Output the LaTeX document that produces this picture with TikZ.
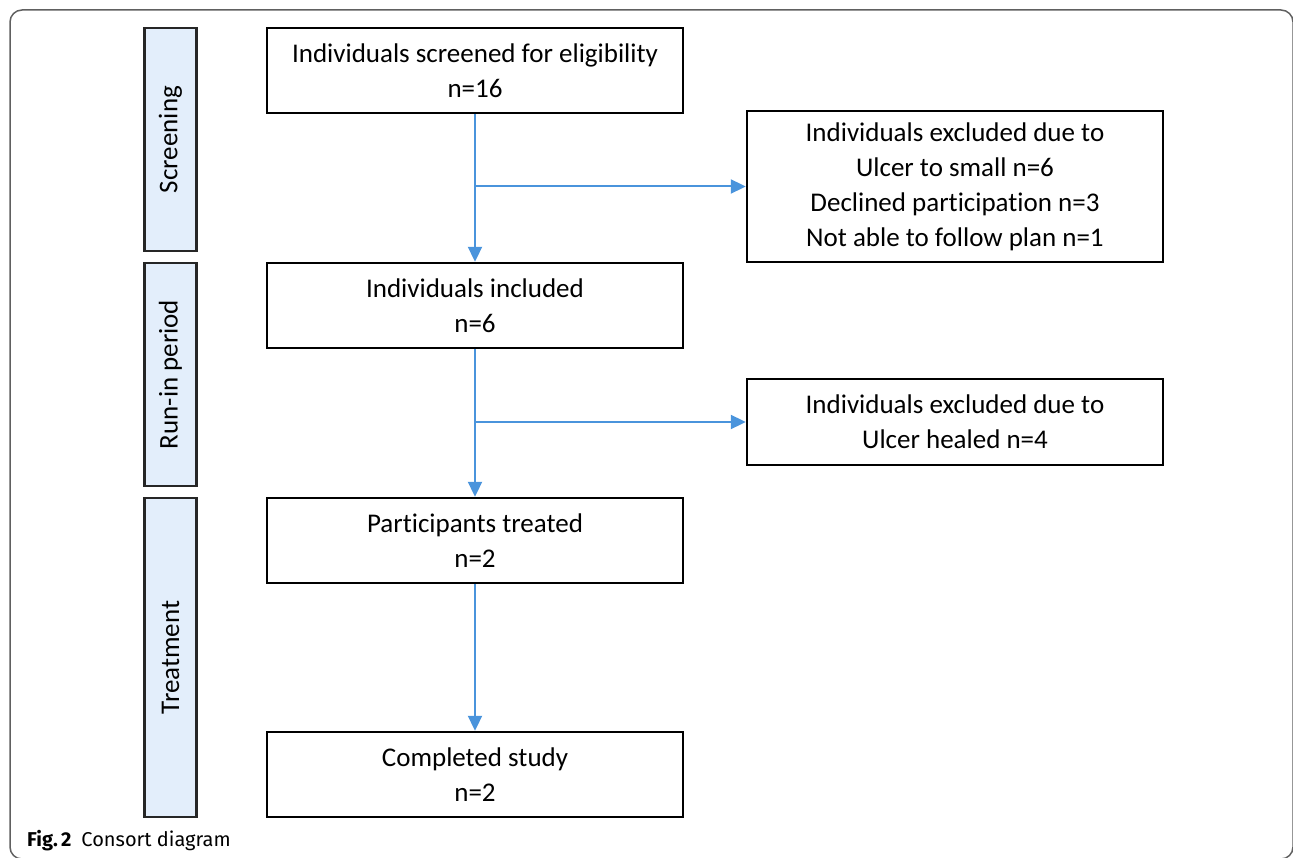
\documentclass[tikz,border=0pt]{standalone}
\usepackage{fontspec}
\setmainfont{Carlito}[Ligatures=NoCommon]
\newfontfamily\capfont{Fira Sans}
\usetikzlibrary{arrows.meta}
\definecolor{arrowblue}{HTML}{4A94DC}
\definecolor{barfill}{HTML}{E3EEFB}
\definecolor{framegray}{HTML}{606060}
\tikzset{
  flowbox/.style={draw=black, line width=2.4pt, fill=white, minimum width=416pt, align=center, inner sep=0pt,
    font=\fontsize{27}{35}\selectfont},
  phasebar/.style={draw=black!85, line width=2.2pt, fill=barfill, minimum width=52pt, inner sep=0pt,
    font=\fontsize{27}{30}\selectfont},
  flowarrow/.style={draw=arrowblue, line width=2pt, -{Triangle[width=14pt,length=15pt]}}
}
\begin{document}
\begin{tikzpicture}[x=1pt,y=-1pt]
\useasboundingbox (0,0) rectangle (1293,858);
\draw[framegray, line width=1.5pt, rounded corners=12pt] (10,10) rectangle (1293,859);

% phase bars
\node[phasebar, minimum height=223pt] (scr) at (170.5,139.5) {\rotatebox{90}{Screening}};
\node[phasebar, minimum height=223pt] (run) at (170.5,374.5) {\rotatebox{90}{Run-in period}};
\node[phasebar, minimum height=319pt] (trt) at (170.5,657.5) {\rotatebox{90}{Treatment}};

% boxes
\node[flowbox, minimum height=85pt] (b1) at (475,70.5) {Individuals screened for eligibility\\n=16};
\node[flowbox, minimum height=151pt] (b2) at (955,186.5) {Individuals excluded due to\\Ulcer to small n=6\\Declined participation n=3\\Not able to follow plan n=1};
\node[flowbox, minimum height=85pt] (b3) at (475,305.5) {Individuals included\\n=6};
\node[flowbox, minimum height=86pt] (b4) at (955,422) {Individuals excluded due to\\Ulcer healed n=4};
\node[flowbox, minimum height=85pt] (b5) at (475,540.5) {Participants treated\\n=2};
\node[flowbox, minimum height=85pt] (b6) at (475,774.5) {Completed study\\n=2};

% connectors
\coordinate (j1) at (b1.south |- b2.west);
\coordinate (j2) at (b3.south |- b4.west);
\draw[flowarrow] (b1.south) -- (b3.north);
\draw[flowarrow] (j1) -- (b2.west);
\draw[flowarrow] (b3.south) -- (b5.north);
\draw[flowarrow] (j2) -- (b4.west);
\draw[flowarrow] (b5.south) -- (b6.north);

% caption
\node[anchor=base west, inner sep=0pt, font=\capfont\fontsize{20}{24}\selectfont] (cap) at (27,846) {\textbf{Fig.\,2}\hspace{0.5em}Consort diagram};
\end{tikzpicture}
\end{document}
